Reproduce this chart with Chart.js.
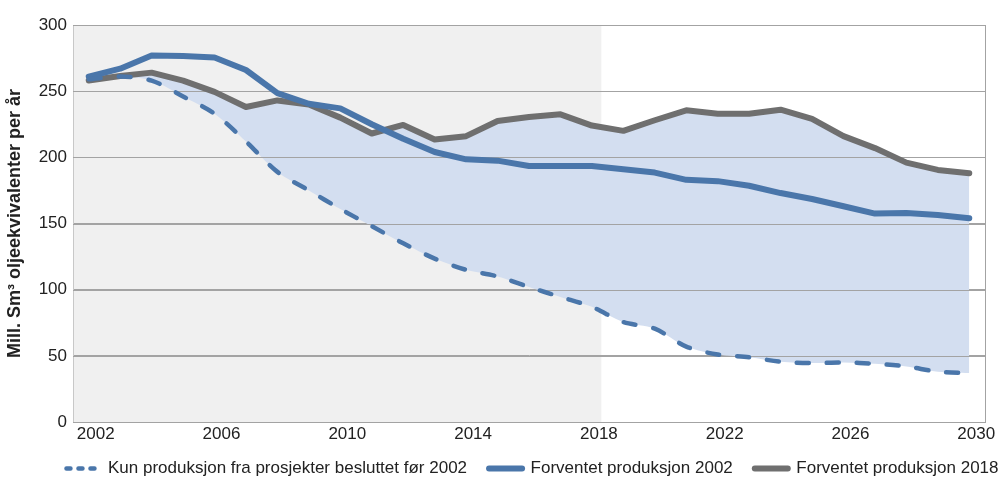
<!DOCTYPE html>
<html>
<head>
<meta charset="utf-8">
<script src="https://cdn.jsdelivr.net/npm/chart.js@4.4.0/dist/chart.umd.min.js"></script>
<style>
  html, body { margin: 0; padding: 0; background: #fff; }
  #wrap { width: 1000px; height: 491px; }
</style>
</head>
<body>
<div id="wrap"><canvas id="prodChart"></canvas></div>
<script>
// år 2002 - 2030
var years = [2002, 2003, 2004, 2005, 2006, 2007, 2008, 2009, 2010, 2011, 2012, 2013, 2014, 2015,
             2016, 2017, 2018, 2019, 2020, 2021, 2022, 2023, 2024, 2025, 2026, 2027, 2028, 2029, 2030];

// Mill. Sm3 o.e. per år
var kunBesluttet = [259, 261, 258, 246, 233, 212, 189, 175, 161, 148, 135, 123.5, 115, 110,
                    102, 94.5, 87, 75.5, 70.5, 57, 51, 49, 45.5, 44.5, 45, 44, 42, 38, 37];
var forventet2002 = [261, 267, 277, 276.5, 275.5, 266, 248.5, 240.5, 237, 225, 214, 204, 198.5, 197.5,
                     193.5, 193.5, 193.5, 191, 188.5, 183, 182, 178.5, 173, 168.5, 163, 157.5, 158, 156.5, 154];
var forventet2018 = [258, 261.5, 264, 258, 249.5, 238, 243, 240, 230, 218, 224.5, 213.5, 216, 227.5,
                     230.5, 232.5, 224, 220, 228, 235.5, 233, 233, 236, 229, 216, 207, 196, 190.5, 188];

var xTickYears = [2002, 2006, 2010, 2014, 2018, 2022, 2026, 2030];
var yTicks = [0, 50, 100, 150, 200, 250, 300];
var historyEnd = 2018;

var BLUE = '#4a76aa';
var GREY = '#6f6f6f';
var FILL = '#d3def0';
var GRID = '#a3a3a3';

var backdrop = {
    id: 'backdrop',
    // legenden står litt til høyre i originalen
    afterLayout: function (chart) {
        var lg = chart.legend;
        lg.left += 40;
        lg.right += 40;
        lg.top -= 4;
        lg.bottom -= 4;
    },
    // grå bakgrunn for historiske år
    beforeDraw: function (chart) {
        var ctx = chart.ctx, a = chart.chartArea, x = chart.scales.x;
        var i = years.indexOf(historyEnd);
        var step = x.getPixelForValue(i + 1) - x.getPixelForValue(i);
        var end = x.getPixelForValue(i) + step * 0.3;
        ctx.save();
        ctx.fillStyle = '#f0f0f0';
        ctx.fillRect(a.left, a.top, end - a.left, a.bottom - a.top);
        ctx.restore();
    },
    // gridlinjer over fyllet
    beforeDatasetsDraw: function (chart) {
        var ctx = chart.ctx, a = chart.chartArea, y = chart.scales.y;
        ctx.save();
        ctx.strokeStyle = GRID;
        ctx.lineWidth = 1;
        yTicks.forEach(function (v) {
            var py = Math.round(y.getPixelForValue(v)) + 0.5;
            ctx.beginPath();
            ctx.moveTo(a.left, py);
            ctx.lineTo(a.right, py);
            ctx.stroke();
        });
        var rx = Math.round(a.right) + 0.5;
        ctx.beginPath();
        ctx.moveTo(rx, a.top);
        ctx.lineTo(rx, a.bottom);
        ctx.stroke();
        ctx.restore();
    }
};

Chart.defaults.font.family = '"Liberation Sans", Arial, sans-serif';
Chart.defaults.color = '#222';

var data = {
    labels: years,
    datasets: [
        {
            label: 'Kun produksjon fra prosjekter besluttet før 2002',
            data: kunBesluttet,
            borderColor: BLUE,
            backgroundColor: BLUE,
            borderWidth: 4.5,
            borderDash: [12, 18],
            borderCapStyle: 'round',
            tension: 0.3,
            pointRadius: 0,
            fill: false
        },
        {
            label: 'Forventet produksjon 2002',
            data: forventet2002,
            borderColor: BLUE,
            backgroundColor: BLUE,
            borderWidth: 6,
            borderJoinStyle: 'round',
            borderCapStyle: 'round',
            pointRadius: 0,
            fill: false
        },
        {
            label: 'Forventet produksjon 2018',
            data: forventet2018,
            borderColor: GREY,
            backgroundColor: FILL,
            borderWidth: 6,
            borderJoinStyle: 'round',
            borderCapStyle: 'round',
            pointRadius: 0,
            fill: { target: 0 }
        }
    ]
};

var options = {
    responsive: true,
    maintainAspectRatio: false,
    animation: false,
    layout: { padding: { top: 25, right: 15, bottom: 0, left: 0 } },
    plugins: {
        filler: { drawTime: 'beforeDatasetsDraw' },
        tooltip: { enabled: false },
        legend: {
            position: 'bottom',
            labels: {
                usePointStyle: true,
                pointStyle: 'line',
                pointStyleWidth: 33,
                boxWidth: 33,
                padding: 22,
                font: { size: 17 },
                color: '#222',
                generateLabels: function (chart) {
                    var items = Chart.defaults.plugins.legend.labels.generateLabels(chart);
                    items[0].lineDash = [4, 8];
                    items[0].lineWidth = 4.5;
                    items.forEach(function (it) { it.lineCap = 'round'; });
                    return items;
                }
            }
        }
    },
    scales: {
        x: {
            offset: true,
            grid: { display: false, drawTicks: false },
            border: { display: true, color: GRID },
            ticks: {
                autoSkip: false,
                maxRotation: 0,
                padding: 2,
                labelOffset: 7,
                font: { size: 17 },
                callback: function (val, idx) {
                    var yr = years[idx];
                    return xTickYears.indexOf(yr) >= 0 ? String(yr) : '';
                }
            },
            afterFit: function (scale) { scale.height = 20; }
        },
        y: {
            min: 0,
            max: 300,
            ticks: { stepSize: 50, padding: 6, font: { size: 17 } },
            grid: { color: GRID, drawTicks: false },
            border: { display: true, color: '#c8c8c8' },
            title: {
                display: true,
                text: 'Mill. Sm³ oljeekvivalenter per år',
                font: { size: 18, weight: 'bold' },
                padding: { top: 4, bottom: 0 },
                color: '#222'
            },
            afterFit: function (scale) { scale.width = 73; }
        }
    }
};

var prodChart = new Chart(document.getElementById('prodChart'), {
    type: 'line',
    data: data,
    options: options,
    plugins: [backdrop]
});
</script>
</body>
</html>
